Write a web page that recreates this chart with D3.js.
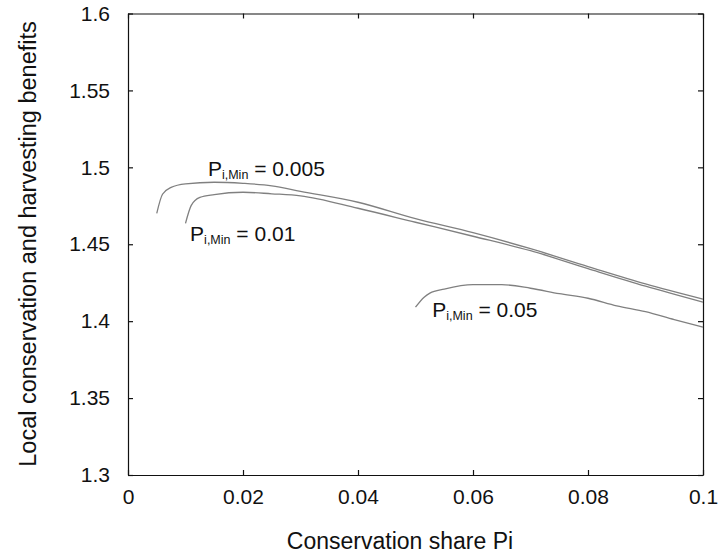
<!DOCTYPE html>
<html>
<head>
<meta charset="utf-8">
<script src="https://cdn.jsdelivr.net/npm/d3@7"></script>
<style>
  body { margin: 0; background: #fff; }
  text { font-family: "Liberation Sans", Arial, sans-serif; fill: #111; }
</style>
</head>
<body>
<div id="chart"></div>
<script>
// データ
const shareA = [0.005, 0.006, 0.0075, 0.01, 0.015, 0.02, 0.025, 0.03, 0.04, 0.05, 0.06, 0.07, 0.08, 0.09, 0.1];
const benefitA = [1.4701, 1.4825, 1.4870, 1.4893, 1.4903, 1.4896, 1.4880, 1.4844, 1.4773, 1.4666, 1.4575, 1.4471, 1.4355, 1.4242, 1.4143];

const shareB = [0.01, 0.011, 0.0125, 0.015, 0.02, 0.025, 0.03, 0.04, 0.05, 0.06, 0.07, 0.08, 0.09, 0.1];
const benefitB = [1.4636, 1.4753, 1.4805, 1.4823, 1.4838, 1.4828, 1.4815, 1.4734, 1.4643, 1.4552, 1.4458, 1.4341, 1.4227, 1.4123];

const shareC = [0.05, 0.0515, 0.0525, 0.055, 0.06, 0.065, 0.07, 0.075, 0.08, 0.085, 0.09, 0.095, 0.1];
const benefitC = [1.4091, 1.4156, 1.4182, 1.4208, 1.4237, 1.4237, 1.4214, 1.4179, 1.4149, 1.4100, 1.4062, 1.4010, 1.3961];

const curveValues = ["0.005", "0.01", "0.05"];
// ラベルの位置（データ座標）
const labelShare = [0.0139, 0.0108, 0.0529];
const labelBenefit = [1.4942, 1.4522, 1.4026];

const xTicks = [0, 0.02, 0.04, 0.06, 0.08, 0.1];
const xTickLabels = ["0", "0.02", "0.04", "0.06", "0.08", "0.1"];
const yTicks = [1.3, 1.35, 1.4, 1.45, 1.5, 1.55, 1.6];
const yTickLabels = ["1.3", "1.35", "1.4", "1.45", "1.5", "1.55", "1.6"];

function drawChart() {
    const width = 719, height = 554;
    const left = 128, right = 703, top = 13.5, bottom = 475;

    const svg = d3.select("#chart")
                  .append("svg")
                  .attr("width", width)
                  .attr("height", height);

    const x = d3.scaleLinear().domain([0, 0.1]).range([left, right]);
    const y = d3.scaleLinear().domain([1.3, 1.6]).range([bottom, top]);

    // 軸（内向きの目盛り、四辺すべて）
    const tickLen = 5;
    svg.append("g")
       .attr("transform", `translate(0,${bottom})`)
       .call(d3.axisBottom(x).tickValues(xTicks).tickSizeInner(-tickLen).tickSizeOuter(0)
                             .tickFormat((d, i) => xTickLabels[i]).tickPadding(14));
    svg.append("g")
       .attr("transform", `translate(0,${top})`)
       .call(d3.axisTop(x).tickValues(xTicks).tickSizeInner(-tickLen).tickSizeOuter(0).tickFormat(""));
    svg.append("g")
       .attr("transform", `translate(${left},0)`)
       .call(d3.axisLeft(y).tickValues(yTicks).tickSizeInner(-tickLen).tickSizeOuter(0)
                           .tickFormat((d, i) => yTickLabels[i]).tickPadding(18));
    svg.append("g")
       .attr("transform", `translate(${right},0)`)
       .call(d3.axisRight(y).tickValues(yTicks).tickSizeInner(-tickLen).tickSizeOuter(0).tickFormat(""));

    svg.selectAll(".tick text")
       .attr("font-size", "21px")
       .attr("font-family", "Liberation Sans, Arial, sans-serif")
       .attr("fill", "#111");
    svg.selectAll(".domain, .tick line").attr("stroke", "#111").attr("stroke-width", 1.2);

    // 曲線
    const line = d3.line().x(d => x(d[0])).y(d => y(d[1])).curve(d3.curveMonotoneX);
    const series = [
        d3.zip(shareA, benefitA),
        d3.zip(shareB, benefitB),
        d3.zip(shareC, benefitC)
    ];
    svg.selectAll("path.curve")
       .data(series)
       .enter()
       .append("path")
       .attr("class", "curve")
       .attr("d", line)
       .attr("fill", "none")
       .attr("stroke", "#808080")
       .attr("stroke-width", 1.3);

    // 曲線のラベル
    const labels = svg.selectAll("text.label")
                      .data(curveValues)
                      .enter()
                      .append("text")
                      .attr("class", "label")
                      .attr("x", (d, i) => x(labelShare[i]))
                      .attr("y", (d, i) => y(labelBenefit[i]))
                      .attr("font-size", "21px");
    labels.append("tspan").text("P");
    labels.append("tspan").text("i,Min").attr("font-size", "12.5px").attr("dy", 3);
    labels.append("tspan").text(d => " = " + d).attr("dy", -3);

    // 軸タイトル
    svg.append("text")
       .attr("x", 400)
       .attr("y", 549)
       .attr("text-anchor", "middle")
       .attr("font-size", "23px")
       .text("Conservation share Pi");
    svg.append("text")
       .attr("transform", `translate(36,244) rotate(-90)`)
       .attr("text-anchor", "middle")
       .attr("font-size", "23.5px")
       .text("Local conservation and harvesting benefits");
}

document.addEventListener("DOMContentLoaded", drawChart);
</script>
</body>
</html>
